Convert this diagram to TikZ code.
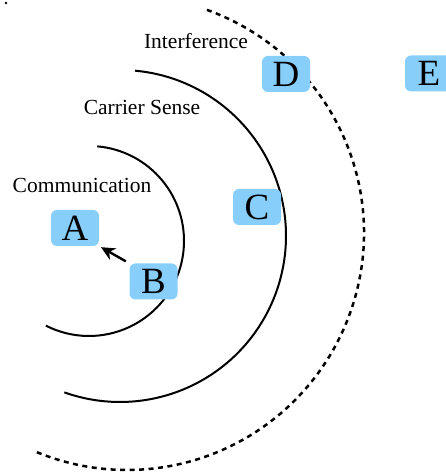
\documentclass[tikz,border=0pt]{standalone}
\usepackage{fontspec}
\setmainfont{Liberation Serif}
\usetikzlibrary{arrows.meta}
\definecolor{stationblue}{RGB}{135,206,250}
\begin{document}
\begin{tikzpicture}[x=1pt,y=1pt,
  station/.style={fill=stationblue, rounded corners=6pt, minimum width=48pt,
    minimum height=36pt, inner sep=0pt, font=\fontsize{37}{37}\selectfont},
  rangelabel/.style={anchor=base, inner sep=0pt, font=\fontsize{21.5}{21.5}\selectfont},
  rangecircle/.style={line width=2pt},
  link/.style={line width=2.4pt, -{Stealth[length=14pt,width=13pt]}}]
\useasboundingbox (0,0) rectangle (445,473);
% ranges around the sender
\draw[rangecircle] (89,232) ++(85:95) arc[start angle=85, end angle=-117, radius=95];
\draw[rangecircle] (120,237) ++(84.8:166) arc[start angle=84.8, end angle=-109.6, radius=166];
\draw[rangecircle, line width=2.5pt, dash pattern=on 5pt off 4.5pt] (127,240) ++(70.3:237) arc[start angle=70.3, end angle=-113.3, radius=237];
\fill (6,470) circle[radius=1.4];
% range labels
\node[rangelabel] (lint) at (196,424) {Interference};
\node[rangelabel] (lcs) at (142,358) {Carrier Sense};
\node[rangelabel] (lcom) at (82,280) {Communication};
% stations
\node[station] (A) at (75,245) {A};
\node[station] (B) at (153.5,191.5) {B};
\node[station] (C) at (257,266) {C};
\node[station] (D) at (286,399) {D};
\node[station] (E) at (429,399.5) {E};
\draw[link, shorten <=4pt, shorten >=2pt] (B.north west) -- (A.south east);
\end{tikzpicture}
\end{document}
